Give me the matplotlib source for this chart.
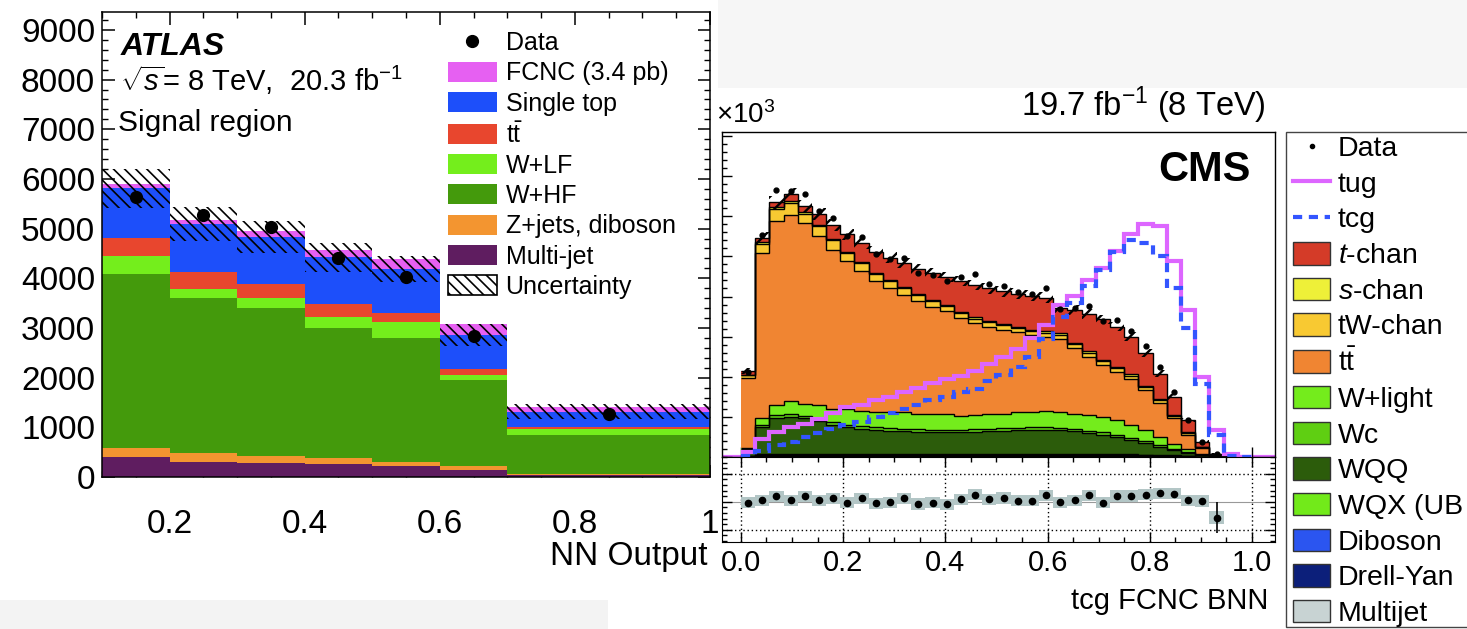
import numpy as np
import matplotlib
matplotlib.use("Agg")
import matplotlib.pyplot as plt
from matplotlib.patches import Rectangle, Patch
from matplotlib.lines import Line2D
from matplotlib.ticker import MultipleLocator

plt.rcParams['font.family'] = ['Liberation Sans', 'DejaVu Sans']
plt.rcParams['mathtext.fontset'] = 'custom'
plt.rcParams['mathtext.rm'] = 'Liberation Sans'
plt.rcParams['mathtext.it'] = 'Liberation Sans:italic'
plt.rcParams['mathtext.bf'] = 'Liberation Sans:bold'
plt.rcParams['hatch.linewidth'] = 1.2
plt.rcParams['hatch.color'] = 'black'

# ---------------- ATLAS panel data (events per bin) ----------------
atlas_edges = [0.1, 0.2, 0.3, 0.4, 0.5, 0.6, 0.7, 1.0]
atlas_multijet = [409, 308, 291, 262, 221, 141, 40]
atlas_zjets = [181, 169, 138, 114, 87, 80, 30]
atlas_whf = [3491, 3121, 2967, 2617, 2484, 1732, 776]
atlas_wlf = [368, 187, 202, 234, 335, 101, 120]
atlas_ttbar = [369, 336, 288, 250, 181, 114, 34]
atlas_singletop = [994, 966, 952, 946, 880, 691, 315]
atlas_fcnc = [81, 87, 121, 147, 201, 215, 101]
atlas_data = [5643, 5275, 5040, 4403, 4021, 2839, 1268]
atlas_unc = [390, 342, 325, 292, 268, 225, 152]
atlas_yticks = [0, 1000, 2000, 3000, 4000, 5000, 6000, 7000, 8000, 9000]
atlas_xticks = [0.2, 0.4, 0.6, 0.8, 1.0]
atlas_xticklabels = ['0.2', '0.4', '0.6', '0.8', '1']

# ---------------- CMS panel data (x10^3 events per bin, 36 bins) ----------------
cms_nbins = 36
cms_multijet = [0.01, 0.02, 0.02, 0.02, 0.02, 0.02, 0.02, 0.02, 0.02, 0.02, 0.02, 0.02,
                0.02, 0.02, 0.02, 0.02, 0.02, 0.02, 0.02, 0.02, 0.02, 0.02, 0.02, 0.02,
                0.02, 0.02, 0.02, 0.02, 0.01, 0.01, 0.01, 0.01, 0.0, 0.0, 0.0, 0.0]
cms_drellyan = [0.01, 0.03, 0.03, 0.03, 0.03, 0.03, 0.03, 0.03, 0.03, 0.03, 0.03, 0.03,
                0.03, 0.03, 0.03, 0.03, 0.03, 0.03, 0.03, 0.03, 0.03, 0.03, 0.03, 0.02,
                0.02, 0.02, 0.02, 0.02, 0.02, 0.01, 0.01, 0.01, 0.01, 0.0, 0.0, 0.0]
cms_diboson = [0.0, 0.01, 0.01, 0.01, 0.01, 0.01, 0.01, 0.01, 0.01, 0.01, 0.01, 0.01,
               0.01, 0.01, 0.01, 0.01, 0.01, 0.01, 0.01, 0.01, 0.01, 0.01, 0.01, 0.01,
               0.01, 0.01, 0.01, 0.01, 0.01, 0.01, 0.01, 0.0, 0.0, 0.0, 0.0, 0.0]
cms_wqx = [0.01, 0.02, 0.02, 0.02, 0.02, 0.02, 0.02, 0.02, 0.02, 0.02, 0.02, 0.02,
           0.02, 0.02, 0.02, 0.02, 0.02, 0.02, 0.02, 0.02, 0.02, 0.02, 0.02, 0.02,
           0.02, 0.02, 0.02, 0.02, 0.01, 0.01, 0.01, 0.01, 0.0, 0.0, 0.0, 0.0]
cms_wqq = [0.15, 0.67, 0.90, 0.92, 0.88, 0.82, 0.72, 0.67, 0.63, 0.60, 0.58, 0.56,
           0.55, 0.54, 0.54, 0.54, 0.55, 0.56, 0.58, 0.59, 0.60, 0.60, 0.59, 0.57,
           0.53, 0.49, 0.43, 0.36, 0.30, 0.22, 0.14, 0.08, 0.03, 0.02, 0.0, 0.0]
cms_wc = [0.01, 0.05, 0.06, 0.06, 0.06, 0.06, 0.06, 0.06, 0.06, 0.06, 0.06, 0.06,
          0.06, 0.06, 0.06, 0.06, 0.06, 0.06, 0.06, 0.06, 0.06, 0.06, 0.06, 0.06,
          0.06, 0.06, 0.05, 0.05, 0.04, 0.03, 0.02, 0.02, 0.01, 0.0, 0.0, 0.0]
cms_wlight = [0.04, 0.16, 0.25, 0.33, 0.30, 0.33, 0.33, 0.38, 0.37, 0.37, 0.39, 0.41,
              0.39, 0.38, 0.38, 0.34, 0.35, 0.36, 0.36, 0.38, 0.39, 0.40, 0.40, 0.38,
              0.38, 0.38, 0.37, 0.31, 0.28, 0.21, 0.13, 0.08, 0.03, 0.01, 0.0, 0.0]
cms_ttbar = [1.75, 4.12, 4.59, 4.65, 4.51, 4.21, 3.98, 3.69, 3.49, 3.27, 3.10, 2.93,
             2.80, 2.69, 2.57, 2.44, 2.29, 2.19, 2.09, 2.00, 1.91, 1.86, 1.82, 1.63,
             1.46, 1.30, 1.20, 1.16, 1.00, 0.85, 0.63, 0.34, 0.14, 0.01, 0.0, 0.0]
cms_tw = [0.06, 0.24, 0.30, 0.30, 0.23, 0.25, 0.23, 0.21, 0.20, 0.18, 0.17, 0.16,
          0.15, 0.14, 0.14, 0.13, 0.12, 0.12, 0.11, 0.11, 0.10, 0.10, 0.10, 0.10,
          0.10, 0.09, 0.09, 0.08, 0.08, 0.07, 0.06, 0.05, 0.03, 0.01, 0.0, 0.0]
cms_schan = [0.01, 0.03, 0.04, 0.04, 0.04, 0.04, 0.04, 0.03, 0.03, 0.03, 0.03, 0.03,
             0.03, 0.03, 0.03, 0.03, 0.03, 0.03, 0.03, 0.03, 0.03, 0.03, 0.03, 0.03,
             0.03, 0.03, 0.03, 0.03, 0.02, 0.02, 0.02, 0.02, 0.01, 0.0, 0.0, 0.0]
cms_tchan = [0.10, 0.10, 0.13, 0.17, 0.15, 0.26, 0.34, 0.43, 0.47, 0.53, 0.56, 0.60,
             0.62, 0.66, 0.68, 0.76, 0.80, 0.80, 0.82, 0.82, 0.85, 0.84, 0.64, 0.82,
             0.93, 1.01, 1.01, 0.94, 0.83, 0.64, 0.46, 0.30, 0.12, 0.03, 0.0, 0.0]
cms_unc = [0.08, 0.15, 0.16, 0.16, 0.16, 0.15, 0.15, 0.14, 0.14, 0.14, 0.13, 0.13,
           0.13, 0.13, 0.13, 0.13, 0.13, 0.13, 0.13, 0.13, 0.13, 0.13, 0.12, 0.12,
           0.12, 0.12, 0.12, 0.11, 0.10, 0.09, 0.08, 0.06, 0.04, 0.02, 0.0, 0.0]
cms_tug = [0.12, 0.46, 0.62, 0.75, 0.83, 0.95, 1.10, 1.25, 1.30, 1.42, 1.50, 1.62,
           1.72, 1.84, 1.95, 2.01, 2.15, 2.32, 2.48, 2.68, 2.96, 3.28, 3.80, 4.02,
           4.40, 4.72, 5.14, 5.55, 5.80, 5.75, 4.88, 3.66, 2.00, 0.68, 0.08, 0.0]
cms_tcg = [0.03, 0.15, 0.30, 0.38, 0.50, 0.60, 0.70, 0.80, 0.88, 1.00, 1.10, 1.20,
           1.30, 1.42, 1.50, 1.62, 1.70, 1.90, 2.05, 2.25, 2.50, 2.95, 3.50, 3.85,
           4.25, 4.65, 5.10, 5.40, 5.33, 5.02, 4.20, 3.22, 1.82, 0.55, 0.03, 0.0]
cms_data = [2.13, 5.53, 6.65, 6.64, 6.55, 6.13, 5.95, 5.50, 5.48, 5.05, 4.94, 4.97,
            4.59, 4.54, 4.38, 4.48, 4.55, 4.30, 4.27, 4.11, 4.06, 4.20, 3.70, 3.71,
            3.76, 3.40, 3.42, 3.15, 2.76, 2.24, 1.61, 0.93, 0.38, 0.07]
cms_ratio = [0.991, 1.014, 1.048, 1.014, 1.048, 1.014, 1.029, 0.991, 1.029, 0.986,
             0.994, 1.029, 0.980, 0.991, 0.977, 1.023, 1.063, 1.023, 1.034, 1.009,
             1.009, 1.057, 0.994, 1.014, 1.057, 0.991, 1.051, 1.051, 1.063, 1.077,
             1.071, 1.014, 1.006, 0.858]
cms_ratio_band = [0.05, 0.05, 0.05, 0.05, 0.05, 0.05, 0.05, 0.05, 0.05, 0.05,
                  0.05, 0.05, 0.05, 0.05, 0.05, 0.05, 0.05, 0.05, 0.05, 0.05,
                  0.05, 0.05, 0.05, 0.05, 0.05, 0.05, 0.05, 0.05, 0.05, 0.05,
                  0.05, 0.05, 0.05, 0.055]
cms_ratio_stat = [0.01, 0.01, 0.01, 0.01, 0.01, 0.01, 0.01, 0.01, 0.01, 0.01,
                  0.01, 0.01, 0.01, 0.01, 0.01, 0.01, 0.01, 0.01, 0.01, 0.01,
                  0.01, 0.01, 0.01, 0.01, 0.01, 0.01, 0.015, 0.015, 0.015, 0.02,
                  0.02, 0.025, 0.03, 0.14]
cms_xticks = [0.0, 0.2, 0.4, 0.6, 0.8, 1.0]
cms_xticklabels = ['0.0', '0.2', '0.4', '0.6', '0.8', '1.0']

# ---------------- colours ----------------
atlas_colors = dict(multijet='#5f1d60', zjets='#f39530', whf='#449a0c', wlf='#74ee1c',
                    ttbar='#e8462e', singletop='#1d4ffa', fcnc='#e660f2')
cms_colors = dict(tchan='#d43b28', schan='#eef038', tw='#f8c932', ttbar='#f08532',
                  wlight='#74ec1c', wc='#5fcf12', wqq='#2c5c0b', wqx='#72ea1a',
                  diboson='#2b55f0', drellyan='#0c1f7a', multijet='#c8d3d3')
tug_color = '#dd66ff'
tcg_color = '#3355ff'

W, H = 1467, 629
fig = plt.figure(figsize=(W / 100, H / 100), dpi=100)


def px_axes(l, t, r, b):
    return fig.add_axes([l / W, 1 - b / H, (r - l) / W, (b - t) / H])


def ftext(x, y, s, **kw):
    return fig.text(x / W, 1 - y / H, s, **kw)


# light grey screenshot strips
fig.add_artist(Rectangle((718 / W, 1 - 88 / H), (W - 718) / W, 88 / H, transform=fig.transFigure,
                         facecolor='#f6f6f6', edgecolor='none', zorder=-5))
fig.add_artist(Rectangle((0, 0), 608 / W, 29 / H, transform=fig.transFigure,
                         facecolor='#f3f3f3', edgecolor='none', zorder=-5))

# =============================== ATLAS ===============================
ax = px_axes(102, 12, 710, 477)
edges = np.array(atlas_edges)
centers = 0.5 * (edges[:-1] + edges[1:])
layers = [(atlas_multijet, atlas_colors['multijet']), (atlas_zjets, atlas_colors['zjets']),
          (atlas_whf, atlas_colors['whf']), (atlas_wlf, atlas_colors['wlf']),
          (atlas_ttbar, atlas_colors['ttbar']), (atlas_singletop, atlas_colors['singletop']),
          (atlas_fcnc, atlas_colors['fcnc'])]
bottom = np.zeros(len(centers))
bkg_total = None
for i, (vals, col) in enumerate(layers):
    top = bottom + np.array(vals, dtype=float)
    ax.stairs(top, edges, baseline=bottom, fill=True, facecolor=col, edgecolor='none', zorder=2)
    if i == 5:
        bkg_total = top.copy()
    bottom = top
unc = np.array(atlas_unc, dtype=float)
ax.stairs(bkg_total + unc, edges, baseline=bkg_total - unc, fill=True, facecolor='none',
          edgecolor='black', hatch='\\\\\\', linewidth=0, zorder=3)
ax.plot(centers, atlas_data, 'o', color='black', ms=8.5, zorder=4)

ax.set_xlim(0.1, 1.0)
ax.set_ylim(0, 9360)
ax.set_xticks(atlas_xticks, atlas_xticklabels)
ax.set_yticks(atlas_yticks)
ax.xaxis.set_minor_locator(MultipleLocator(0.05))
ax.yaxis.set_minor_locator(MultipleLocator(200))
ax.tick_params(which='both', direction='in', top=True, right=True)
ax.tick_params(which='major', length=9, width=1.1, labelsize=24)
ax.tick_params(which='minor', length=4.5, width=1.0)
ax.tick_params(axis='x', pad=23)
ax.tick_params(axis='y', pad=5)
for s in ax.spines.values():
    s.set_linewidth(1.1)

ftext(708, 565, 'NN Output', fontsize=24, ha='right', va='baseline')
ftext(121, 55, 'ATLAS', fontsize=23, fontweight='bold', fontstyle='italic', ha='left', va='baseline')
ftext(120, 91, r'$\sqrt{s}$= 8 TeV,  20.3 fb$^{-1}$', fontsize=21, ha='left', va='baseline')
ftext(118, 131, 'Signal region', fontsize=21.5, ha='left', va='baseline')

atlas_handles = [Line2D([], [], ls='none', marker='o', color='black', ms=8.5),
                 Patch(facecolor=atlas_colors['fcnc'], edgecolor='none'),
                 Patch(facecolor=atlas_colors['singletop'], edgecolor='none'),
                 Patch(facecolor=atlas_colors['ttbar'], edgecolor='none'),
                 Patch(facecolor=atlas_colors['wlf'], edgecolor='none'),
                 Patch(facecolor=atlas_colors['whf'], edgecolor='none'),
                 Patch(facecolor=atlas_colors['zjets'], edgecolor='none'),
                 Patch(facecolor=atlas_colors['multijet'], edgecolor='none'),
                 Patch(facecolor='white', edgecolor='black', hatch='\\\\\\', linewidth=1.2)]
atlas_labels = ['Data', 'FCNC (3.4 pb)', 'Single top', r'$\mathrm{t\bar{t}}$', 'W+LF', 'W+HF',
                'Z+jets, diboson', 'Multi-jet', 'Uncertainty']
ax.legend(atlas_handles, atlas_labels, loc='upper left',
          bbox_to_anchor=((448 - 102) / 608, (477 - 31) / 465), frameon=False, fontsize=18,
          handlelength=1.95, handleheight=0.85, handletextpad=0.35, labelspacing=0.25,
          borderpad=0, borderaxespad=0)

# =============================== CMS ===============================
cms_edges = np.linspace(0.0, 1.0, cms_nbins + 1)
cms_centers = 0.5 * (cms_edges[:-1] + cms_edges[1:])
binw = cms_edges[1] - cms_edges[0]
xlo, xhi = -0.037, 1.045

axm = px_axes(722, 132, 1275, 457)
cms_layers = [(cms_multijet, cms_colors['multijet']), (cms_drellyan, cms_colors['drellyan']),
              (cms_diboson, cms_colors['diboson']), (cms_wqx, cms_colors['wqx']),
              (cms_wqq, cms_colors['wqq']), (cms_wc, cms_colors['wc']),
              (cms_wlight, cms_colors['wlight']), (cms_ttbar, cms_colors['ttbar']),
              (cms_tw, cms_colors['tw']), (cms_schan, cms_colors['schan']),
              (cms_tchan, cms_colors['tchan'])]
bottom = np.zeros(cms_nbins)
for vals, col in cms_layers:
    top = bottom + np.array(vals, dtype=float)
    axm.stairs(top, cms_edges, baseline=bottom, fill=True, facecolor=col, edgecolor='none', zorder=2)
    axm.stairs(top, cms_edges, baseline=None, color='black', linewidth=1.0, zorder=2.5)
    bottom = top
total = bottom
cu = np.array(cms_unc)
plt.rcParams['hatch.linewidth'] = 1.7
axm.stairs(total + cu, cms_edges, baseline=total - cu, fill=True, facecolor='none',
           edgecolor='black', hatch='//', linewidth=0, zorder=3)
plt.rcParams['hatch.linewidth'] = 1.2
axm.axhline(0, color=tug_color, lw=3, zorder=1)
axm.stairs(cms_tug, cms_edges, baseline=None, color=tug_color, linewidth=3, zorder=4)
axm.stairs(cms_tcg, cms_edges, baseline=None, color=tcg_color, linewidth=3,
           linestyle=(0, (2.2, 1.6)), zorder=4.5)
nd = len(cms_data)
axm.plot(cms_centers[:nd], cms_data, 'o', color='black', ms=3.5, zorder=5)

axm.set_xlim(xlo, xhi)
axm.set_ylim(0, 8.1)
axm.set_xticks(cms_xticks)
axm.xaxis.set_minor_locator(MultipleLocator(0.05))
axm.yaxis.set_major_locator(MultipleLocator(1))
axm.yaxis.set_minor_locator(MultipleLocator(0.2))
axm.tick_params(which='both', direction='in', labelbottom=False, labelleft=False)
axm.tick_params(which='major', length=7, width=1.0)
axm.tick_params(which='minor', length=3.5, width=1.0)
for s in axm.spines.values():
    s.set_linewidth(1.0)

axr = px_axes(722, 457, 1275, 542)
axr.bar(cms_centers[:nd], 2 * np.array(cms_ratio_band), bottom=np.array(cms_ratio) - np.array(cms_ratio_band),
        width=binw, color='#b3c6c6', edgecolor='none', zorder=2)
axr.errorbar(cms_centers[:nd], cms_ratio, yerr=cms_ratio_stat, fmt='o', color='black', ms=4.5,
             lw=1.2, capsize=0, zorder=4)
axr.axhline(1.0, color='#999999', lw=0.8, zorder=1)
for yv in (0.75, 1.25):
    axr.axhline(yv, color='black', lw=1.0, ls=(0, (1, 2)), zorder=1)
for xv in cms_xticks:
    axr.axvline(xv, color='black', lw=1.0, ls=(0, (1, 2)), zorder=1)
axr.set_xlim(xlo, xhi)
axr.set_ylim(0.64, 1.40)
axr.set_xticks(cms_xticks, cms_xticklabels)
axr.xaxis.set_minor_locator(MultipleLocator(0.05))
axr.set_yticks([0.75, 1.0, 1.25])
axr.yaxis.set_minor_locator(MultipleLocator(0.05))
axr.tick_params(which='both', direction='in', top=True, right=True, labelleft=False)
axr.tick_params(which='major', length=7, width=1.0, labelsize=21)
axr.tick_params(which='minor', length=3.5, width=1.0)
axr.tick_params(axis='x', pad=5)

ftext(716, 123, '×10$^{3}$', fontsize=20, ha='left', va='baseline')
ftext(1266, 116, '19.7 fb$^{-1}$ (8 TeV)', fontsize=23.5, ha='right', va='baseline')
ftext(1251, 181, 'CMS', fontsize=30, fontweight='bold', ha='right', va='baseline')
ftext(1268, 609, 'tcg FCNC BNN', fontsize=21, ha='right', va='baseline')

# CMS legend box
fig.add_artist(Rectangle((1286 / W, 1 - 627 / H), 200 / W, 495 / H, transform=fig.transFigure,
                         facecolor='white', edgecolor='#444444', lw=1.0, zorder=0))
cms_handles = [Line2D([], [], ls='none', marker='o', color='black', ms=3),
               Line2D([], [], color=tug_color, lw=3),
               Line2D([], [], color=tcg_color, lw=3, ls=(0, (2.2, 1.6)))]
for key in ['tchan', 'schan', 'tw', 'ttbar', 'wlight', 'wc', 'wqq', 'wqx', 'diboson', 'drellyan', 'multijet']:
    cms_handles.append(Patch(facecolor=cms_colors[key], edgecolor='#333333', linewidth=1.0))
cms_labels = ['Data', 'tug', 'tcg', r'$\it{t}$-chan', r'$\it{s}$-chan', 'tW-chan', r'$\mathrm{t\bar{t}}$',
              'W+light', 'Wc', 'WQQ', 'WQX (UB', 'Diboson', 'Drell-Yan', 'Multijet']
fig.legend(cms_handles, cms_labels, loc='upper left', bbox_to_anchor=(1293 / W, 1 - 135 / H),
           frameon=False, fontsize=20.5, handlelength=1.3, handleheight=0.84, handletextpad=0.27,
           labelspacing=0.3, borderpad=0, borderaxespad=0)

fig.savefig('out.png', dpi=100)
